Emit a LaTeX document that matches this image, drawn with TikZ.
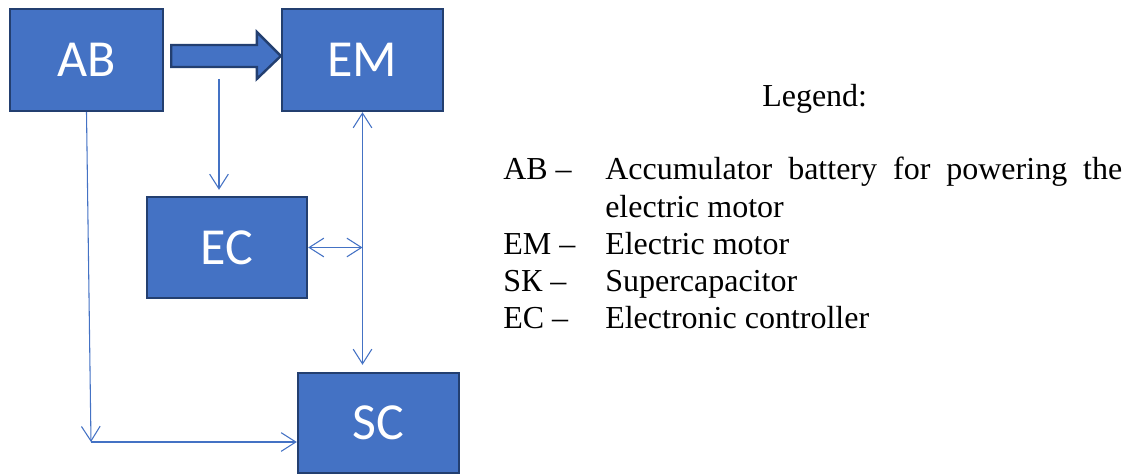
\documentclass[tikz,border=0pt]{standalone}
\usepackage{fontspec}
\setmainfont{Liberation Serif}
\newfontfamily\boxfont{Carlito}
\usetikzlibrary{arrows.meta,calc}
\definecolor{boxblue}{HTML}{4472C4}
\definecolor{boxedge}{HTML}{233F70}
\begin{document}
\begin{tikzpicture}[x=0.75pt,y=-0.75pt,
  blk/.style={draw=boxedge, line width=1.8pt, fill=boxblue, text=white,
    font=\boxfont\fontsize{39pt}{42pt}\selectfont, inner sep=0pt},
  fatarrow/.style={draw=boxedge, line width=1.8pt, fill=boxblue, line join=miter},
  conn/.style={draw=boxblue, line width=0.8pt, -{Straight Barb[length=11pt,width=14pt]}},
  biconn/.style={draw=boxblue, line width=0.8pt, {Straight Barb[length=11pt,width=14pt]}-{Straight Barb[length=11pt,width=14pt]}},
  lg/.style={font=\fontsize{24pt}{27.75pt}\selectfont, anchor=base west, inner sep=0pt}]
\useasboundingbox (0,0) rectangle (1131,474);

% blocks
\node[blk, minimum width=114.75pt, minimum height=76.5pt] (AB) at (86.5,60) {\raisebox{-2.5pt}{AB}};
\node[blk, minimum width=120.75pt, minimum height=76.5pt] (EM) at (362.5,60) {\raisebox{-2.5pt}{EM}};
\node[blk, minimum width=120pt, minimum height=75.75pt] (EC) at (227,247.5) {\raisebox{-2.5pt}{EC}};
\node[blk, minimum width=120.75pt, minimum height=75pt] (SC) at (378.5,423) {\raisebox{-2.5pt}{SC}};

% thick arrow AB -> EM
\draw[fatarrow] ($(AB.east)+(7,-15)$) -- ($(EM.west)+(-24,-15)$) -- ($(EM.west)+(-24,-28)$)
  -- ($(EM.west)+(0,-4)$) -- ($(EM.west)+(-24,19)$) -- ($(EM.west)+(-24,7)$)
  -- ($(AB.east)+(7,7)$) -- cycle;

% thin connectors
\coordinate (tap) at (219,79);
\draw[conn, shorten >=4.5pt] (tap) -- (tap |- EC.north);

\coordinate (corner) at (91,442);
\draw[conn] (AB.south) -- (corner);
\draw[conn] (corner) -- (corner -| SC.west);

\draw[biconn, shorten >=5.25pt] (EM.south) -- (EM.south |- SC.north);
\coordinate (j) at (EM.south |- EC.east);
\draw[biconn] (EC.east) -- (j);

% legend
\node[lg] (lgt) at (762,107) {Legend:};
\node[lg] (k1) at (503,180) {AB –};
\node[lg] (d1) at (605,180) {\makebox[387.75pt][s]{Accumulator battery for powering the}};
\node[lg] (d1b) at (605,217) {electric motor};
\node[lg] (k2) at (503,254) {EM –};
\node[lg] (d2) at (605,254) {Electric motor};
\node[lg] (k3) at (503,291) {SК –};
\node[lg] (d3) at (605,291) {Supercapacitor};
\node[lg] (k4) at (503,328) {EC –};
\node[lg] (d4) at (605,328) {Electronic controller};
\end{tikzpicture}
\end{document}
